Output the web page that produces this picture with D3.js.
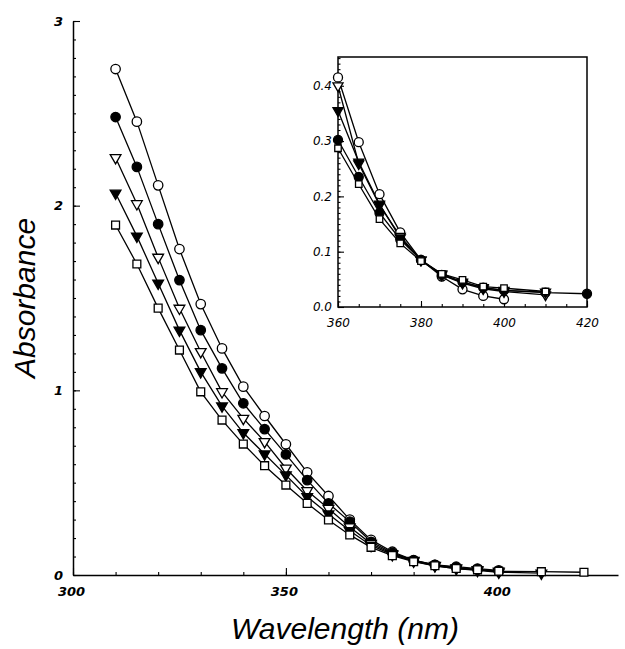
<!DOCTYPE html>
<html>
<head>
<meta charset="utf-8">
<script src="https://cdn.jsdelivr.net/npm/d3@7"></script>
<style>
  html, body { margin: 0; padding: 0; background: #fff; }
  svg { display: block; }
  .tick text { font-family: "DejaVu Sans", sans-serif; font-style: italic; }
</style>
</head>
<body>
<script>
// ---------- main plot data ----------
const wavelengthsMain = [310, 315, 320, 325, 330, 335, 340, 345, 350, 355, 360, 365, 370, 375, 380, 385, 390, 395, 400, 410, 420];
const openCircleMain   = [2.74, 2.455, 2.11, 1.765, 1.467, 1.227, 1.02, 0.861, 0.708, 0.556, 0.428, 0.30, 0.19, 0.126, 0.081, 0.055, 0.04, 0.03, 0.02];
const filledCircleMain = [2.48, 2.21, 1.90, 1.597, 1.326, 1.119, 0.93, 0.79, 0.653, 0.514, 0.388, 0.289, 0.18, 0.12, 0.079, 0.055, 0.045, 0.035, 0.025];
const openTriMain      = [2.26, 2.01, 1.72, 1.444, 1.209, 0.992, 0.848, 0.722, 0.578, 0.456, 0.36, 0.26, 0.17, 0.115, 0.078, 0.052, 0.038, 0.028, 0.02];
const filledTriMain    = [2.067, 1.835, 1.58, 1.326, 1.10, 0.915, 0.77, 0.655, 0.541, 0.424, 0.33, 0.24, 0.16, 0.11, 0.075, 0.05, 0.035, 0.025, 0.015, 0.01];
const squareMain       = [1.895, 1.684, 1.445, 1.218, 0.992, 0.839, 0.709, 0.592, 0.487, 0.388, 0.298, 0.217, 0.15, 0.105, 0.072, 0.05, 0.035, 0.028, 0.02, 0.018, 0.015];

// ---------- inset data ----------
const wavelengthsInset = [360, 365, 370, 375, 380, 385, 390, 395, 400, 410, 420];
const openCircleInset   = [0.415, 0.298, 0.204, 0.135, 0.085, 0.055, 0.032, 0.020, 0.014];
const filledCircleInset = [0.302, 0.235, 0.17, 0.122, 0.085, 0.058, 0.045, 0.035, 0.03, 0.026, 0.024];
const openTriInset      = [0.40, 0.259, 0.184, 0.128, 0.085, 0.058, 0.043, 0.033, 0.028, 0.022];
const filledTriInset    = [0.355, 0.262, 0.186, 0.125, 0.085, 0.06, 0.045, 0.035, 0.03, 0.027];
const squareInset       = [0.287, 0.222, 0.159, 0.115, 0.083, 0.06, 0.049, 0.037, 0.034, 0.028];

// ---------- tick labels ----------
const mainXTicks = [300, 350, 400];
const mainYTicks = [0, 1, 2, 3];
const insetXTicks = [360, 380, 400, 420];
const insetYTicks = [0.0, 0.1, 0.2, 0.3, 0.4];

const W = 625, H = 649;
const svg = d3.select("body").append("svg").attr("width", W).attr("height", H);

const seriesDefs = [
  {key: "oc", type: "circle", fill: "#fff"},
  {key: "fc", type: "circle", fill: "#000"},
  {key: "ot", type: "tri", fill: "#fff"},
  {key: "ft", type: "tri", fill: "#000"},
  {key: "sq", type: "square", fill: "#fff"}
];

function makeSeries(xs, arrays) {
  return seriesDefs.map((d, i) => ({
    ...d,
    pts: arrays[i].map((v, j) => ({x: xs[j], y: v}))
  }));
}

const mainSeries = makeSeries(wavelengthsMain, [openCircleMain, filledCircleMain, openTriMain, filledTriMain, squareMain]);
const insetSeries = makeSeries(wavelengthsInset, [openCircleInset, filledCircleInset, openTriInset, filledTriInset, squareInset]);

function drawMarks(g, series, x, y, sz) {
  const line = d3.line().x(d => x(d.x)).y(d => y(d.y));
  series.forEach(s => {
    g.append("path").datum(s.pts).attr("d", line)
      .attr("fill", "none").attr("stroke", "#000").attr("stroke-width", 1.3);
  });
  series.forEach(s => {
    let sym, rot = 0, size;
    if (s.type === "circle") { sym = d3.symbolCircle; size = sz.circle; }
    else if (s.type === "tri") { sym = d3.symbolTriangle; size = sz.tri; rot = 180; }
    else { sym = d3.symbolSquare; size = sz.square; }
    const gen = d3.symbol().type(sym).size(size);
    g.selectAll(null).data(s.pts).enter().append("path")
      .attr("d", gen)
      .attr("transform", d => `translate(${x(d.x)},${y(d.y)}) rotate(${rot})`)
      .attr("fill", s.fill).attr("stroke", "#000").attr("stroke-width", 1.3);
  });
}

// ---------- main axes ----------
const x = d3.scaleLinear().domain([300, 428]).range([73, 618]);
const y = d3.scaleLinear().domain([0, 3]).range([575, 21]);

const gx = svg.append("g").attr("transform", `translate(0,${y(0)})`);
gx.call(d3.axisBottom(x).tickValues(d3.range(300, 430, 10)).tickSize(-3).tickFormat(""));
gx.call(g => g.select(".domain").remove());
const gxM = svg.append("g").attr("transform", `translate(0,${y(0)})`)
  .call(d3.axisBottom(x).tickValues(mainXTicks).tickSizeInner(-7).tickSizeOuter(0).tickPadding(12).tickFormat(d3.format("d")));
gxM.selectAll(".tick text").attr("font-size", 13).attr("font-weight", "bold").attr("dx", -2);

const gy = svg.append("g").attr("transform", `translate(${x(300)},0)`);
gy.call(d3.axisLeft(y).tickValues(d3.range(0, 3.001, 0.1)).tickSize(-3).tickFormat(""));
gy.call(g => g.select(".domain").remove());
const gyM = svg.append("g").attr("transform", `translate(${x(300)},0)`)
  .call(d3.axisLeft(y).tickValues(mainYTicks).tickSizeInner(-7).tickSizeOuter(0).tickPadding(10).tickFormat(d3.format("d")));
gyM.selectAll(".tick text").attr("font-size", 13).attr("font-weight", "bold");
gyM.select(".domain").attr("stroke-width", 1.5);
gxM.select(".domain").attr("stroke-width", 1.5);
svg.selectAll(".tick line").attr("stroke-width", 1.2);

const gMain = svg.append("g");
drawMarks(gMain, mainSeries, x, y, {circle: 70, tri: 50, square: 62});

// axis titles
svg.append("text")
  .attr("x", 345).attr("y", 639)
  .attr("text-anchor", "middle")
  .attr("font-family", "Liberation Sans, Arial, sans-serif")
  .attr("font-style", "italic").attr("font-size", 30)
  .text("Wavelength (nm)");
svg.append("text")
  .attr("transform", "translate(35,298) rotate(-90)")
  .attr("text-anchor", "middle")
  .attr("font-family", "Liberation Sans, Arial, sans-serif")
  .attr("font-style", "italic").attr("font-size", 30)
  .text("Absorbance");

// ---------- inset ----------
const xi = d3.scaleLinear().domain([360, 420]).range([338, 587]);
const yi = d3.scaleLinear().domain([0, 0.452]).range([307, 57]);

svg.append("rect").attr("x", xi(360)).attr("y", yi(0.452))
  .attr("width", xi(420) - xi(360)).attr("height", yi(0) - yi(0.452))
  .attr("fill", "#fff").attr("stroke", "#000").attr("stroke-width", 1.5);

const gix = svg.append("g").attr("transform", `translate(0,${yi(0)})`);
gix.call(d3.axisBottom(xi).tickValues(d3.range(360, 421, 5)).tickSize(-3).tickFormat(""));
gix.call(g => g.select(".domain").remove());
const gixM = svg.append("g").attr("transform", `translate(0,${yi(0)})`)
  .call(d3.axisBottom(xi).tickValues(insetXTicks).tickSizeInner(-6).tickSizeOuter(0).tickPadding(11).tickFormat(d3.format("d")));
gixM.select(".domain").remove();
gixM.selectAll(".tick text").attr("font-size", 12);

const giy = svg.append("g").attr("transform", `translate(${xi(360)},0)`);
giy.call(d3.axisLeft(yi).tickValues(d3.range(0, 0.451, 0.01)).tickSize(-2.5).tickFormat(""));
giy.call(g => g.select(".domain").remove());
const giyM = svg.append("g").attr("transform", `translate(${xi(360)},0)`)
  .call(d3.axisLeft(yi).tickValues(insetYTicks).tickSizeInner(-6).tickSizeOuter(0).tickPadding(6).tickFormat(d3.format(".1f")));
giyM.select(".domain").remove();
giyM.selectAll(".tick text").attr("font-size", 12);
svg.selectAll(".tick line").attr("stroke-width", 1.1);

const gIn = svg.append("g");
drawMarks(gIn, insetSeries, xi, yi, {circle: 64, tri: 44, square: 42});
</script>
</body>
</html>
